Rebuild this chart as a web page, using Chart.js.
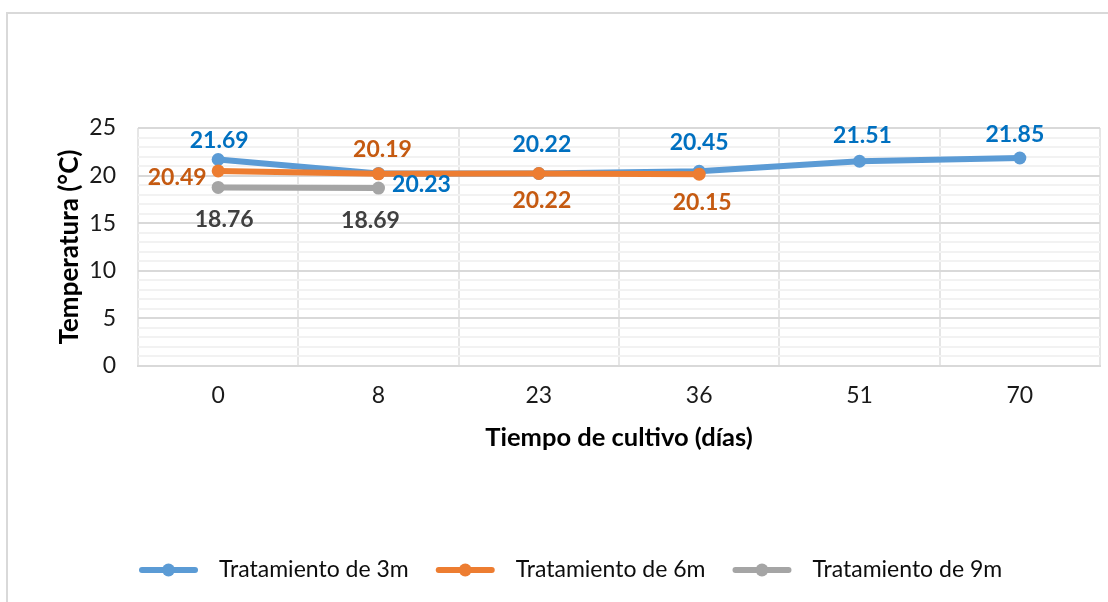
<!DOCTYPE html>
<html>
<head>
<meta charset="utf-8">
<script src="https://cdn.jsdelivr.net/npm/chart.js@4/dist/chart.umd.min.js"></script>
<style>
  html, body { margin: 0; padding: 0; background: #ffffff; }
  #wrap { width: 1108px; height: 602px; position: relative; }
</style>
</head>
<body>
<div id="wrap"><canvas id="c" width="1108" height="602"></canvas></div>
<script>
// ---- data ----
const categories = ['0', '8', '23', '36', '51', '70'];
const seriesNames = ['Tratamiento de 3m', 'Tratamiento de 6m', 'Tratamiento de 9m'];
const temp3m = [21.69, 20.23, 20.22, 20.45, 21.51, 21.85];
const temp6m = [20.49, 20.19, 20.22, 20.15, null, null];
const temp9m = [18.76, 18.69, null, null, null, null];
const yTickLabels = [0, 5, 10, 15, 20, 25];
const xTitle = 'Tiempo de cultivo (días)';
const yTitle = 'Temperatura (°C)';

// ---- styles ----
const FONT = 'Lato, "Open Sans", sans-serif';
const lineColors = ['#5B9BD5', '#ED7D31', '#A5A5A5'];
const labelColors = ['#0070C0', '#C55A11', '#404040'];
// label centre offsets from the point (pixels), per series per point
const labelOffsets = [
  [[1, -19], [43, 11], [3, -29], [0, -29], [3, -26], [-5, -23]],
  [[-41, 7], [4, -24], [3, 27], [3, 28], null, null],
  [[6, 32], [-8, 33], null, null, null, null]
];

const values = [temp3m, temp6m, temp9m];

const datasets = values.map((v, i) => ({
  label: seriesNames[i],
  data: v,
  borderColor: lineColors[i],
  backgroundColor: lineColors[i],
  pointBackgroundColor: lineColors[i],
  pointBorderColor: lineColors[i],
  pointRadius: 6.5,
  pointBorderWidth: 0,
  pointHoverRadius: 6.5,
  borderWidth: 6,
  borderCapStyle: 'round',
  borderJoinStyle: 'round',
  tension: 0,
  spanGaps: false,
  order: 3 - i
}));

const bgPlugin = {
  id: 'bg',
  beforeDraw(chart) {
    const ctx = chart.ctx;
    ctx.save();
    ctx.fillStyle = '#ffffff';
    ctx.fillRect(0, 0, chart.width, chart.height);
    ctx.strokeStyle = '#d9d9d9';
    ctx.lineWidth = 2;
    ctx.strokeRect(7, 13, chart.width + 20, chart.height + 20);
    ctx.restore();
  }
};

const labelPlugin = {
  id: 'dataLabels',
  afterDatasetsDraw(chart) {
    const ctx = chart.ctx;
    ctx.save();
    ctx.font = 'bold 23px ' + FONT;
    ctx.textAlign = 'center';
    ctx.textBaseline = 'middle';
    chart.data.datasets.forEach((ds, di) => {
      const meta = chart.getDatasetMeta(di);
      meta.data.forEach((pt, pi) => {
        const v = ds.data[pi];
        if (v === null || v === undefined) return;
        const off = labelOffsets[di][pi] || [0, -20];
        ctx.fillStyle = labelColors[di];
        ctx.fillText(v.toFixed(2), pt.x + off[0], pt.y + off[1]);
      });
    });
    ctx.restore();
  }
};

const legendPlugin = {
  id: 'customLegend',
  afterDraw(chart) {
    const ctx = chart.ctx;
    ctx.save();
    ctx.font = '23px ' + FONT;
    ctx.textBaseline = 'middle';
    ctx.textAlign = 'left';
    const y = 570;
    let x = 142;
    const lineLen = 53, gapText = 24, gapItem = 30;
    chart.data.datasets.forEach((ds, i) => {
      ctx.strokeStyle = lineColors[i];
      ctx.lineWidth = 6;
      ctx.lineCap = 'round';
      ctx.beginPath();
      ctx.moveTo(x, y);
      ctx.lineTo(x + lineLen, y);
      ctx.stroke();
      ctx.fillStyle = lineColors[i];
      ctx.beginPath();
      ctx.arc(x + lineLen / 2, y, 6.5, 0, Math.PI * 2);
      ctx.fill();
      ctx.fillStyle = '#0d0d0d';
      const tx = x + lineLen + gapText;
      ctx.fillText(ds.label, tx, y);
      x = tx + ctx.measureText(ds.label).width + gapItem;
    });
    ctx.restore();
  }
};

new Chart(document.getElementById('c'), {
  type: 'line',
  data: { labels: categories, datasets },
  options: {
    responsive: false,
    animation: false,
    events: [],
    layout: { padding: { left: 0, right: 8, top: 128, bottom: 136 } },
    plugins: {
      legend: { display: false },
      tooltip: { enabled: false },
      title: { display: false }
    },
    scales: {
      x: {
        type: 'category',
        offset: true,
        grid: { offset: true, color: '#e6e6e6', lineWidth: 2, drawTicks: false },
        border: { display: true, color: '#d9d9d9', width: 2 },
        ticks: { color: '#1a1a1a', font: { family: FONT, size: 23 }, padding: 16, maxRotation: 0 },
        title: { display: true, text: xTitle, color: '#000000', font: { family: FONT, size: 25.5, weight: 'bold' }, padding: { top: 0, bottom: 13 } },
        afterFit(scale) { scale.height = 100; }
      },
      y: {
        type: 'linear',
        min: 0,
        max: 25,
        grid: {
          color: (c) => (c.tick && c.tick.value % 5 === 0) ? '#d9d9d9' : '#f2f2f2',
          lineWidth: 2,
          drawTicks: false
        },
        border: { display: false },
        ticks: {
          stepSize: 1,
          autoSkip: false,
          color: '#1a1a1a',
          font: { family: FONT, size: 23 },
          padding: 22,
          callback: (v) => yTickLabels.includes(v) ? String(v) : ''
        },
        title: { display: true, text: yTitle, color: '#000000', font: { family: FONT, size: 26, weight: 'bold' }, padding: { top: 54, bottom: 0 } },
        afterFit(scale) { scale.width = 138; }
      }
    }
  },
  plugins: [bgPlugin, labelPlugin, legendPlugin]
});
</script>
</body>
</html>
